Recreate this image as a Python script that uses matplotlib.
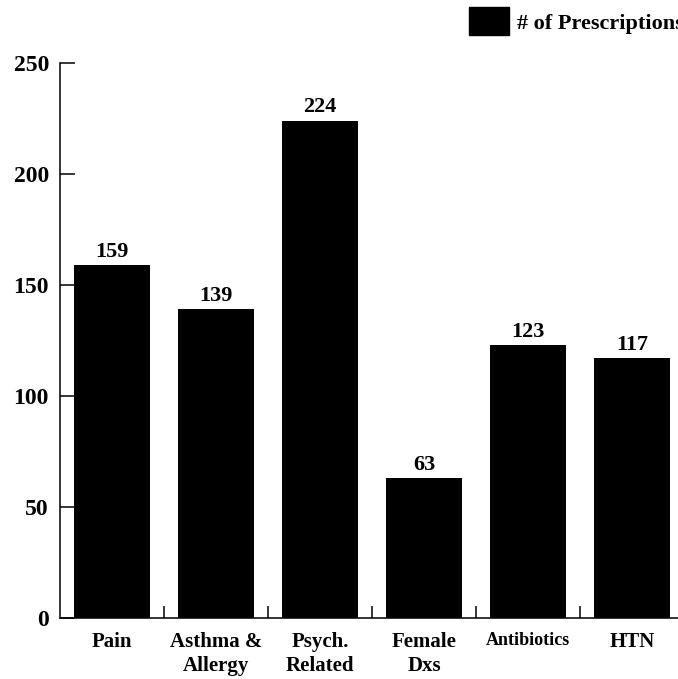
import matplotlib
matplotlib.use("Agg")
import matplotlib.pyplot as plt
from matplotlib.patches import Patch
from matplotlib.ticker import FixedLocator

categories = ["Pain", "Asthma &\nAllergy", "Psych.\nRelated", "Female\nDxs", "Antibiotics", "HTN"]
prescriptions = [159, 139, 224, 63, 123, 117]
y_ticks = [0, 50, 100, 150, 200, 250]
series_name = "# of Prescriptions"

W, H = 678, 679
fig = plt.figure(figsize=(W / 100, H / 100), dpi=100)
plt.rcParams["font.family"] = ["Liberation Serif", "DejaVu Serif"]

left, right_px, top_px, bottom_px = 60, 684, 63, 618
ax = fig.add_axes([left / W, (H - bottom_px) / H, (right_px - left) / W, (bottom_px - top_px) / H])

x = list(range(len(categories)))
ax.bar(x, prescriptions, width=0.73, color="black", zorder=2)

for xi, v in zip(x, prescriptions):
    ax.text(xi, v + 1.5, str(v), ha="center", va="bottom", fontsize=16, fontweight="bold")

ax.set_xlim(-0.5, len(categories) - 0.5)
ax.set_ylim(0, 250)

for s in ["top", "right"]:
    ax.spines[s].set_visible(False)
for s in ["left", "bottom"]:
    ax.spines[s].set_linewidth(1.1)

ax.set_yticks(y_ticks)
ax.set_yticklabels([str(t) for t in y_ticks], fontsize=17, fontweight="bold")
ax.tick_params(axis="y", direction="in", length=11, width=1.1, pad=8)

ax.set_xticks(x)
ax.set_xticklabels(categories, fontsize=15, fontweight="bold", linespacing=1.3)
for lbl in ax.get_xticklabels():
    if lbl.get_text() == "Antibiotics":
        lbl.set_fontsize(13)
ax.tick_params(axis="x", which="major", length=0, pad=10)
ax.xaxis.set_minor_locator(FixedLocator([i + 0.5 for i in range(len(categories) - 1)]))
ax.tick_params(axis="x", which="minor", direction="in", length=9, width=1.1)

handle = Patch(facecolor="black", edgecolor="black")
fig.legend([handle], [series_name], loc="upper left",
           bbox_to_anchor=(465 / W, 1.0 - 3 / H), frameon=False,
           prop={"family": "Liberation Serif", "weight": "bold", "size": 16},
           handlelength=1.8, handleheight=1.55, handletextpad=0.35,
           borderpad=0.2, borderaxespad=0.0)

fig.savefig("out.png", dpi=100)
